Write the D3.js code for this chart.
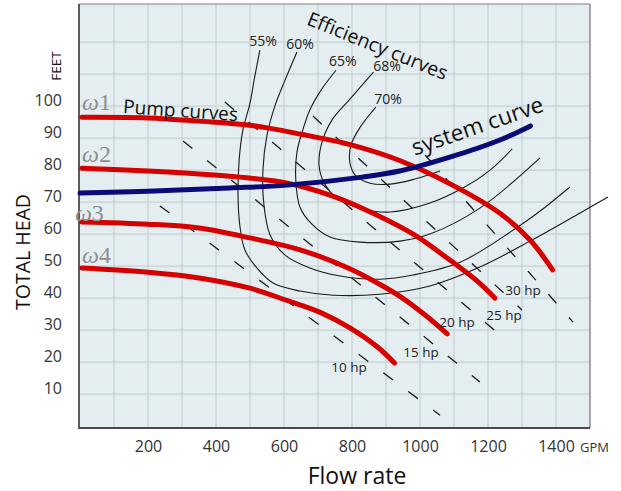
<!DOCTYPE html>
<html><head><meta charset="utf-8">
<script src="https://cdn.jsdelivr.net/npm/d3@7"></script>
<style>body{margin:0;background:#fff;} svg{display:block;}</style>
</head><body><svg id="c" width="621" height="491"></svg>
<script>
// ---------- data ----------
const xTicks = [200,400,600,800,1000,1200,1400];
const yTicks = [10,20,30,40,50,60,70,80,90,100];
const pumpNames = ["1","2","3","4"];
const pump1Flow = [5,200,350,500,650,800,940,1090,1235,1325,1390];
const pump1Head = [96.5,96.3,95.3,94,91.2,87.8,83,75.6,66.5,58,48.8];
const pump2Flow = [5,200,350,470,610,735,830,980,1080,1175,1220];
const pump2Head = [80.6,79.7,78.8,77.8,75.9,72.2,68.1,60,52.5,44.7,40];
const pump3Flow = [5,200,350,500,650,795,880,940,1015,1080];
const pump3Head = [63.8,63.1,61.9,58.8,55,49.1,44.4,40.6,34.7,28.8];
const pump4Flow = [5,200,350,500,605,705,795,875,925];
const pump4Head = [49.4,48.1,46.3,43.1,39.4,35.6,30.6,24.7,19.7];
const systemFlow = [0,200,440,610,830,940,1090,1235,1325];
const systemHead = [72.8,73.4,74.4,75.3,77.8,79.7,84.1,89.4,93.8];
const effLabels = ["55%","60%","65%","68%","70%"];
const eff55Flow = [529,512,500,479,468,465,471,485,518,568,647,744,882,1029,1176,1324,1471,1553];
const eff55Head = [117.5,108.1,100.9,92.5,83.1,70.6,61.9,55,49.7,44.7,42.2,40.9,41.2,43.8,49.7,57.8,66.6,71.6];
const eff60Flow = [638,603,574,550,538,541,559,603,676,765,882,979,1118,1265,1368,1441];
const eff60Head = [116.9,108.1,100.3,90.9,80,69.1,59.7,53.4,49.4,46.9,45.9,47.2,51.2,60.6,68.4,74.7];
const eff65Flow = [753,709,676,656,638,635,647,682,735,824,941,1029,1176,1353];
const eff65Head = [111.2,105,98.8,92.8,85.6,76.2,68.4,63.1,59.1,57.5,57.8,60,68.1,83.8];
const eff68Flow = [863,794,741,712,703,718,756,824,912,1029,1126,1206,1271];
const eff68Head = [110.6,102.2,95.6,88.8,81.6,76,71.2,68.1,66.9,69.7,74.4,80,86.6];
const eff70Flow = [870,824,797,794,812,853,912,985,1059];
const eff70Head = [99.7,93.4,87.8,82.2,78.1,75.9,75.6,77.2,79.7];
const hpLabels = ["10 hp","15 hp","20 hp","25 hp","30 hp"];
const hp10Flow = [235,1059], hp10Head = [68.8,3.4];
const hp15Flow = [303,1176], hp15Head = [89.1,13.8];
const hp20Flow = [426,1256], hp20Head = [101.3,26.6];
const hp25Flow = [685,1300], hp25Head = [96.9,36.3];
const hp30Flow = [1015,1450], hp30Head = [84.7,32.5];

// ---------- drawing ----------
const svg = d3.select("#c");
const x = d3.scaleLinear().domain([-3,1500]).range([79,590]);
const y = d3.scaleLinear().domain([-0.6,131.9]).range([428,4]);
const zip = (a,b)=>a.map((v,i)=>[v,b[i]]);
const smooth = d3.line().x(d=>x(d[0])).y(d=>y(d[1])).curve(d3.curveCatmullRom.alpha(0.5));
const straight = d3.line().x(d=>x(d[0])).y(d=>y(d[1]));
const F = "'Open Sans', 'DejaVu Sans', sans-serif";

const x0=x(-3), x1=x(1500), yT=y(131.9), yB=y(-0.6);
svg.append("rect").attr("x",x0).attr("y",yT).attr("width",x1-x0).attr("height",yB-yT).attr("fill","#e4eef0");

// grid
const gx = d3.range(100,1500,100), gy = d3.range(10,130,10);
const grid = svg.append("g").attr("stroke","#c7d2d5").attr("stroke-width",1.2);
grid.selectAll("line.v").data(gx).join("line").attr("class","v")
  .attr("x1",d=>x(d)).attr("x2",d=>x(d)).attr("y1",yT).attr("y2",yB);
grid.selectAll("line.h").data(gy).join("line").attr("class","h")
  .attr("x1",x0).attr("x2",x1).attr("y1",d=>y(d)).attr("y2",d=>y(d));

// frame
svg.append("line").attr("x1",x0).attr("x2",x1).attr("y1",yT).attr("y2",yT).attr("stroke","#7d7d7d").attr("stroke-width",1.2);
svg.append("line").attr("x1",x1).attr("x2",x1).attr("y1",yT).attr("y2",yB).attr("stroke","#8a8a8a").attr("stroke-width",1.5);
svg.append("line").attr("x1",x0).attr("x2",x0).attr("y1",yT).attr("y2",yB+1).attr("stroke","#4a4a4a").attr("stroke-width",1.8);
svg.append("line").attr("x1",x0).attr("x2",x1).attr("y1",yB).attr("y2",yB).attr("stroke","#4a4a4a").attr("stroke-width",1.8);

// axes
const ax = svg.append("g").attr("transform",`translate(0,${yB})`)
  .call(d3.axisBottom(x).tickValues(xTicks).tickFormat(d3.format("d")).tickSize(0).tickPadding(13));
ax.select(".domain").remove();
ax.selectAll("text").attr("font-family",F).attr("font-size",16).attr("fill","#333");
const ay = svg.append("g").attr("transform",`translate(${x0},0)`)
  .call(d3.axisLeft(y).tickValues(yTicks).tickFormat(d3.format("d")).tickSize(0).tickPadding(17));
ay.select(".domain").remove();
ay.selectAll("text").attr("font-family",F).attr("font-size",16).attr("fill","#333").attr("y",-6);

// efficiency curves
const effData = [zip(eff55Flow,eff55Head),zip(eff60Flow,eff60Head),zip(eff65Flow,eff65Head),zip(eff68Flow,eff68Head),zip(eff70Flow,eff70Head)];
svg.append("g").selectAll("path").data(effData).join("path")
  .attr("d",smooth).attr("fill","none").attr("stroke","#1a1a1a").attr("stroke-width",1.1);

// hp dashed lines
const hpData = [zip(hp10Flow,hp10Head),zip(hp15Flow,hp15Head),zip(hp20Flow,hp20Head),zip(hp25Flow,hp25Head),zip(hp30Flow,hp30Head)];
svg.append("g").selectAll("path").data(hpData).join("path")
  .attr("d",straight).attr("fill","none").attr("stroke","#1a1a1a").attr("stroke-width",1.3)
  .attr("stroke-dasharray","12,19");

// pump curves
const pumpData = [zip(pump1Flow,pump1Head),zip(pump2Flow,pump2Head),zip(pump3Flow,pump3Head),zip(pump4Flow,pump4Head)];
svg.append("g").selectAll("path").data(pumpData).join("path")
  .attr("d",smooth).attr("fill","none").attr("stroke","#d60000").attr("stroke-width",5).attr("stroke-linecap","round");

// system curve
svg.append("path").datum(zip(systemFlow,systemHead)).attr("d",smooth)
  .attr("fill","none").attr("stroke","#0b0b78").attr("stroke-width",5).attr("stroke-linecap","round");

// ω labels
const omegaPos = [[6,98.8],[6,82.5],[-15,64],[6,51]];
pumpNames.forEach((n,i)=>{
  const t = svg.append("text").attr("x",x(omegaPos[i][0])).attr("y",y(omegaPos[i][1]))
    .attr("font-family","'Liberation Serif', 'DejaVu Serif', serif").attr("font-size",24).attr("fill","#8e8e8e");
  t.append("tspan").attr("font-style","italic").text("ω");
  t.append("tspan").text(n);
});

// efficiency labels
const effPos = [[538,120.6],[647,119.7],[773,114.4],[903,112.8],[906,102.5]];
svg.append("g").selectAll("text").data(effLabels).join("text")
  .attr("x",(d,i)=>x(effPos[i][0])).attr("y",(d,i)=>y(effPos[i][1]))
  .attr("text-anchor","middle").attr("dominant-baseline","central")
  .attr("font-family",F).attr("font-size",14).attr("fill","#222").text(d=>d);

// hp labels
const hpPos = [[791,18.4],[1003,23.1],[1109,32.5],[1247,34.7],[1303,42.5]];
svg.append("g").selectAll("text").data(hpLabels).join("text")
  .attr("x",(d,i)=>x(hpPos[i][0])).attr("y",(d,i)=>y(hpPos[i][1]))
  .attr("text-anchor","middle").attr("dominant-baseline","central")
  .attr("font-family",F).attr("font-size",13.5).attr("fill","#222").text(d=>d);

// annotations
svg.append("text").attr("transform",`translate(${x(126)},${y(97.8)}) rotate(4)`)
  .attr("font-family",F).attr("font-size",19).attr("fill","#111").text("Pump curves");
svg.append("text").attr("transform",`translate(${x(876)},${y(119)}) rotate(22)`)
  .attr("text-anchor","middle").attr("dominant-baseline","central")
  .attr("font-family",F).attr("font-size",19.5).attr("fill","#111").text("Efficiency curves");
svg.append("text").attr("transform",`translate(${x(1168)},${y(94)}) rotate(-19)`)
  .attr("text-anchor","middle").attr("dominant-baseline","central")
  .attr("font-family",F).attr("font-size",22.5).attr("fill","#111").text("system curve");

// axis titles
svg.append("text").attr("x",357).attr("y",484).attr("text-anchor","middle")
  .attr("font-family",F).attr("font-size",23).attr("fill","#111").text("Flow rate");
svg.append("text").attr("transform","translate(22,252) rotate(-90)").attr("text-anchor","middle")
  .attr("dominant-baseline","central").attr("font-family",F).attr("font-size",19.5).attr("fill","#111").text("TOTAL HEAD");
svg.append("text").attr("transform","translate(56,66) rotate(-90)").attr("text-anchor","middle")
  .attr("dominant-baseline","central").attr("font-family",F).attr("font-size",13.5).attr("fill","#111").text("FEET");
svg.append("text").attr("x",580).attr("y",452).attr("font-family",F).attr("font-size",13).attr("fill","#333").text("GPM");
</script></body></html>
